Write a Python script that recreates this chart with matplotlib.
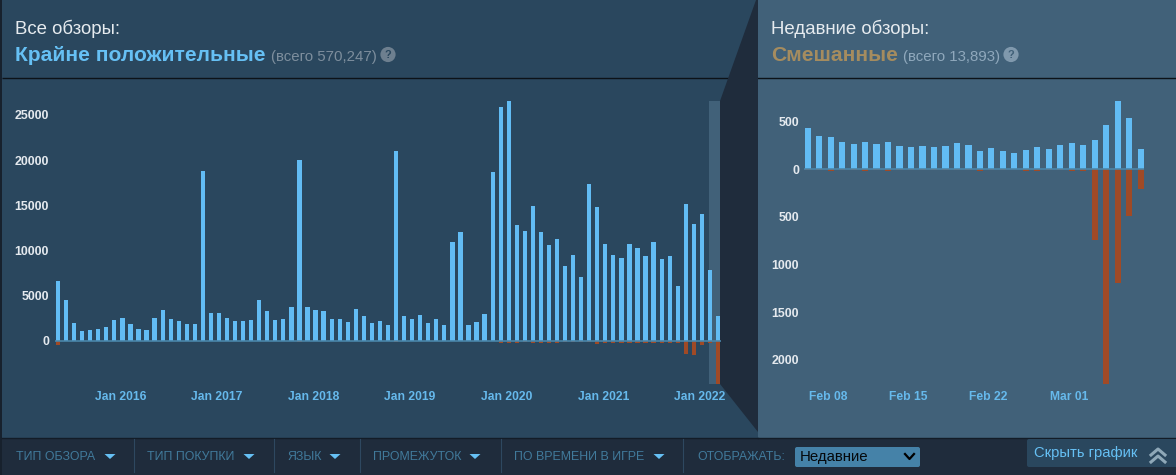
import matplotlib
matplotlib.use("Agg")
import matplotlib.pyplot as plt
from matplotlib.patches import Rectangle, Polygon, Circle, FancyBboxPatch
import pandas as pd

W, H = 1176, 475
FONT = "Liberation Sans"
plt.rcParams["font.family"] = [FONT, "DejaVu Sans"]

# ---- data ----
all_months = pd.date_range("2015-05-01", periods=83, freq="MS")
all_pos = [6640, 4500, 1990, 1100, 1180, 1250, 1510, 2320, 2550, 1810, 1330, 1180,
           2550, 3430, 2400, 2210, 1850, 1850, 18750, 3100, 3060, 2550, 2210, 2140,
           2320, 4460, 3280, 2250, 2400, 3760, 20000, 3690, 3360, 3280, 2400, 2400,
           2030, 3470, 2730, 1920, 2210, 1730, 20960, 2730, 2360, 2880, 1920, 2360,
           1730, 10960, 12070, 1730, 2030, 2990, 18710, 25900, 26530, 12770, 12100, 14870,
           12070, 10550, 11250, 8230, 9520, 7080, 17340, 14800, 10660, 9450, 9110, 10740,
           10300, 9410, 10920, 9040, 9410, 6090, 15090, 12950, 13990, 7860, 2730]
all_neg = [430, 60, 30, 20, 20, 20, 20, 30, 30, 20, 20, 20,
           30, 40, 30, 30, 20, 20, 60, 40, 40, 30, 30, 30,
           30, 70, 60, 30, 30, 60, 100, 60, 60, 60, 40, 40,
           40, 60, 60, 30, 30, 30, 110, 40, 30, 60, 30, 40,
           30, 60, 80, 30, 30, 40, 60, 230, 280, 200, 190, 250,
           210, 200, 240, 190, 180, 130, 190, 380, 300, 250, 230, 250,
           290, 280, 280, 230, 240, 200, 1430, 1620, 480, 280, 4830]
all_ticks = ["2016-01", "2017-01", "2018-01", "2019-01", "2020-01", "2021-01", "2022-01"]
all_yticks = [0, 5000, 10000, 15000, 20000, 25000]

recent_days = pd.date_range("2022-02-06", periods=30, freq="D")
recent_pos = [426, 349, 335, 286, 265, 279, 262, 283, 237, 230, 244, 230, 237, 269, 255,
              192, 216, 192, 164, 195, 234, 213, 248, 269, 248, 304, 457, 712, 534, 209]
recent_neg = [12, 10, 18, 8, 8, 18, 14, 18, 10, 12, 14, 8, 12, 8, 14,
              20, 8, 14, 4, 18, 22, 10, 14, 24, 20, 743, 2255, 1197, 489, 209]
recent_ticks = ["2022-02-08", "2022-02-15", "2022-02-22", "2022-03-01"]
recent_yticks = [-2000, -1500, -1000, -500, 0, 500]

# ---- colours ----
C_LEFT = "#2a475e"
C_RIGHT = "#416179"
C_DARK = "#1f2c3c"
C_BAR = "#62bcf4"
C_NEG = "#a04a26"
C_BASE = "#4b87ab"
C_TICK = "#e4e9ee"
C_XT = "#66b9ec"
C_FILTER = "#417a9b"

fig = plt.figure(figsize=(W / 100, H / 100), dpi=100, facecolor=C_DARK)


def px_axes(x0, x1, y0, y1, **kw):
    return fig.add_axes([x0 / W, 1 - y1 / H, (x1 - x0) / W, (y1 - y0) / H], **kw)


# ---- background layer ----
bg = px_axes(0, W, 0, H, zorder=0)
bg.set_xlim(0, W)
bg.set_ylim(H, 0)
bg.axis("off")
bg.add_patch(Rectangle((2, 0), 756, 438, color=C_LEFT, lw=0))
bg.add_patch(Rectangle((758, 0), 418, 438, color=C_RIGHT, lw=0))
bg.add_patch(Rectangle((0, 0), 2, H, color="#17212d", lw=0))
bg.plot([2, W], [78, 78], color="#0c1218", lw=1.0, solid_capstyle="butt")
bg.add_patch(Rectangle((709, 101), 11, 283, color=C_RIGHT, lw=0))
bg.add_patch(Polygon([(756, 0), (758, 0), (758, 438), (758, 432), (720, 384), (720, 101)],
                     closed=True, color=C_DARK, lw=0, zorder=3))
bg.add_patch(Rectangle((2, 438), W - 2, 37, color=C_DARK, lw=0))
bg.plot([2, 758], [438, 438], color="#131c27", lw=1.0)
bg.plot([758, W], [438, 438], color="#131c27", lw=1.0)


# ---- charts ----
def chart(x0, x1, y0, y1, first_px, step_px, zero_px, unit_px, xs, pos, neg, width,
          tick_idx, tick_labels, yticks):
    ax = px_axes(x0, x1, y0, y1, zorder=2)
    ax.patch.set_alpha(0)
    ax.set_xlim((x0 - first_px) / step_px, (x1 - first_px) / step_px)
    ax.set_ylim((zero_px - y1) / unit_px, (zero_px - y0) / unit_px)
    idx = list(range(len(xs)))
    ax.bar(idx, pos, width=width, color=C_BAR, lw=0)
    ax.bar(idx, [-v for v in neg], width=width, color=C_NEG, lw=0)
    ax.hlines(0, -0.32, len(xs) - 0.68, color=C_BASE, lw=1.3, alpha=0.9)
    for s in ax.spines.values():
        s.set_visible(False)
    ax.set_xticks(tick_idx, tick_labels)
    ax.set_yticks(yticks, [str(abs(v)) for v in yticks])
    ax.tick_params(axis="x", length=0, pad=2.5, labelcolor=C_XT)
    ax.tick_params(axis="y", length=0, pad=0, labelcolor=C_TICK)
    for t in ax.get_xticklabels():
        t.set_fontsize(8.7)
        t.set_fontweight("bold")
    for t in ax.get_yticklabels():
        t.set_fontsize(8.9)
        t.set_fontweight("bold")
    return ax


a_idx = [list(all_months.strftime("%Y-%m")).index(t) - 0.25 for t in all_ticks]
a_lab = [pd.Timestamp(t).strftime("%b %Y") for t in all_ticks]
chart(49, 730, 80, 388, 58, 660 / 82, 340.7, 0.009035, all_months, all_pos, all_neg, 0.53,
      a_idx, a_lab, all_yticks)

r_idx = [list(recent_days.strftime("%Y-%m-%d")).index(t) - 0.24 for t in recent_ticks]
r_lab = [pd.Timestamp(t).strftime("%b %d") for t in recent_ticks]
chart(799, 1170, 80, 388, 807.7, 11.48, 169, 0.0955, recent_days, recent_pos, recent_neg, 0.54,
      r_idx, r_lab, recent_yticks)

# ---- text and controls layer ----
ov = px_axes(0, W, 0, H, zorder=3)
ov.set_xlim(0, W)
ov.set_ylim(H, 0)
ov.axis("off")


def label(x, y, s, color, px, weight="normal", ha="left", family=FONT):
    ov.text(x, y, s, color=color, fontsize=px * 0.72, fontweight=weight, ha=ha, va="center",
            family=family)


def help_icon(x, y, fc, tc):
    ov.add_patch(Circle((x, y), 7.6, color=fc, lw=0))
    label(x, y + 0.3, "?", tc, 11, "bold", "center")


label(15, 28.5, "Все обзоры:", "#e6ebef", 18.6)
label(15, 55.5, "Крайне положительные", "#66c0f4", 21, "bold")
label(271, 57, "(всего 570,247)", "#7d8e9d", 15)
help_icon(388, 54.5, "#6d7f8f", "#2a475e")

label(771, 28.5, "Недавние обзоры:", "#e6ebef", 18.6)
label(771, 55.5, "Смешанные", "#a58c5f", 21, "bold")
label(903, 57, "(всего 13,893)", "#8fa8bc", 15)
help_icon(1011, 54.5, "#8099ad", "#416179")

filters = [("ТИП ОБЗОРА", 16, 110), ("ТИП ПОКУПКИ", 147, 249), ("ЯЗЫК", 287, 335),
           ("ПРОМЕЖУТОК", 373, 475), ("ПО ВРЕМЕНИ В ИГРЕ", 514, 659)]
for name, x, tri in filters:
    label(x, 456.5, name, C_FILTER, 12.4)
    ov.add_patch(Polygon([(tri - 5.5, 454), (tri + 5.5, 454), (tri, 459)], closed=True,
                         color="#66c0f4", lw=0))
for sep in [133.5, 273.5, 360, 500.5, 683]:
    ov.plot([sep, sep], [439, 472], color="#2e4860", lw=0.8)
label(697, 456.5, "ОТОБРАЖАТЬ:", C_FILTER, 12.4)

ov.add_patch(FancyBboxPatch((797, 449), 121, 16, boxstyle="round,pad=2,rounding_size=2",
                            fc="#4582a8", ec="none"))
label(800, 457, "Недавние", "#05090c", 15)
ov.plot([905, 909.5, 914], [454, 459, 454], color="#000000", lw=1.6)

ov.add_patch(FancyBboxPatch((1029, 441), 147, 24, boxstyle="round,pad=2,rounding_size=2",
                            fc=C_LEFT, ec="none"))
label(1034, 453.5, "Скрыть график", "#66c0f4", 14.7)
for dy in (0, 7):
    ov.plot([1151, 1158, 1165], [455 + dy, 449 + dy, 455 + dy], color="#8fa8b8", lw=2.2)

fig.savefig("out.png", dpi=100, facecolor=fig.get_facecolor())
